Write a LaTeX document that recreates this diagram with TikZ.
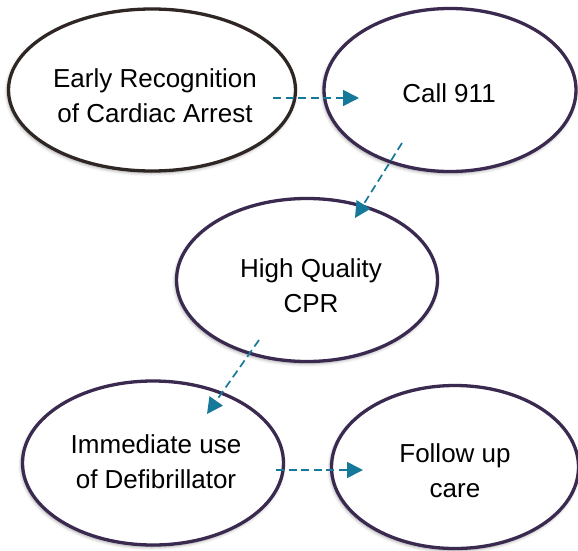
\documentclass[tikz,border=0pt]{standalone}
\usepackage{fontspec}
\setmainfont{Liberation Sans}
\usetikzlibrary{shapes.geometric,arrows.meta,calc,shadows.blur}
\definecolor{rimdark}{HTML}{2F2724}
\definecolor{rimpurple}{HTML}{3A2A50}
\definecolor{flowteal}{HTML}{17799A}
\begin{document}
\begin{tikzpicture}[x=1pt,y=-1pt,
  stage/.style={ellipse, draw=rimpurple, line width=3.3pt, fill=white, inner sep=0pt,
    blur shadow={shadow xshift=-1pt, shadow yshift=-2pt, shadow blur radius=3.5pt, shadow opacity=40}},
  caption/.style={align=center, font=\fontsize{26}{35}\selectfont, inner sep=0pt},
  flow/.style={draw=flowteal, line width=1.7pt, dash pattern=on 8pt off 4.5pt,
    -{Triangle[length=16pt,width=16pt]}}
]
\useasboundingbox (0,0) rectangle (578,551);

% the five stages of the chain of survival
\node[stage, draw=rimdark, minimum width=287pt, minimum height=162pt] (e1) at (152,90) {};
\node[stage, minimum width=252pt, minimum height=163pt] (e2) at (450,90) {};
\node[stage, minimum width=261pt, minimum height=163pt] (e3) at (307,280) {};
\node[stage, minimum width=261pt, minimum height=164pt] (e4) at (153,463) {};
\node[stage, minimum width=247pt, minimum height=163pt] (e5) at (455,467) {};

% stage captions
\node[caption] (t1) at (155,96) {Early Recognition\\of Cardiac Arrest};
\node[caption] (t2) at (449,93) {Call 911};
\node[caption] (t3) at (311,286) {High Quality\\CPR};
\node[caption] (t4) at (156,462) {Immediate use\\of Defibrillator};
\node[caption] (t5) at (455,471) {Follow up\\care};

% arrow end points, set inside the ellipses
\coordinate (a1s) at ($(e1)+(121,8)$);
\coordinate (a1e) at ($(e2)+(-91,8)$);
\coordinate (a2s) at ($(e2)+(-48,53)$);
\coordinate (a2e) at ($(e3)+(48,-62)$);
\coordinate (a3s) at ($(e3)+(-48,60)$);
\coordinate (a3e) at ($(e4)+(54,-49)$);
\coordinate (a4s) at ($(e4)+(123,7)$);
\coordinate (a4e) at ($(e5)+(-92,3)$);

\draw[flow] (a1s) -- (a1e);
\draw[flow] (a2s) -- (a2e);
\draw[flow] (a3s) -- (a3e);
\draw[flow] (a4s) -- (a4e);
\end{tikzpicture}
\end{document}
